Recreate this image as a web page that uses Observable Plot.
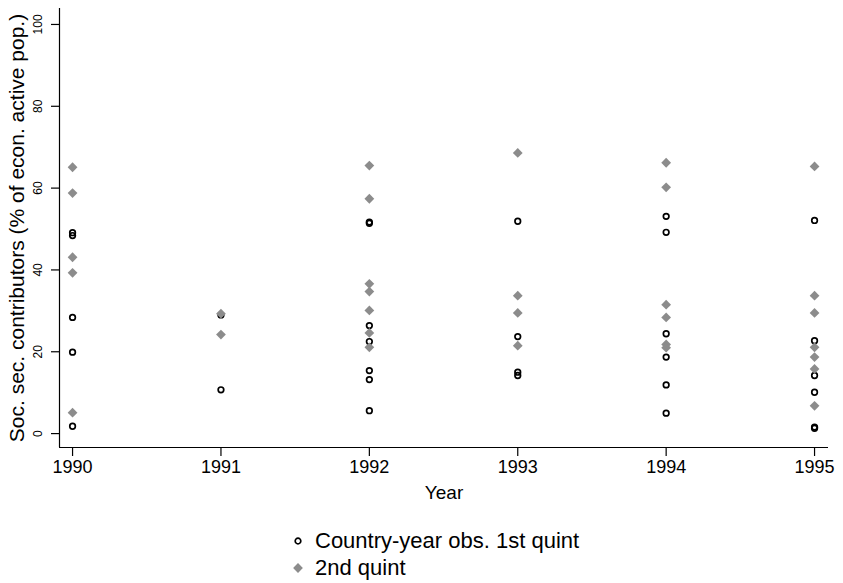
<!DOCTYPE html>
<html>
<head>
<meta charset="utf-8">
<script src="https://cdn.jsdelivr.net/npm/d3@7"></script>
<script src="https://cdn.jsdelivr.net/npm/@observablehq/plot@0.6"></script>
<style>
  body { margin: 0; background: #fff; font-family: "Liberation Sans", Arial, Helvetica, sans-serif; }
  #chart svg { display: block; }
  .legend { position: relative; height: 63px; }
  .legend .row { position: absolute; left: 289px; display: flex; align-items: center; font-size: 22px; color: #000; height: 26px; }
  .legend .row svg { width: 18px; height: 18px; margin-right: 8px; }
</style>
</head>
<body>
<div id="chart"></div>
<div class="legend" id="legend"></div>
<script>
// Years observed on the x axis
const years = [1990, 1991, 1992, 1993, 1994, 1995];

// Contributors (% of economically active population), one list per year
const quint1 = [
  [49.1, 48.4, 28.4, 19.9, 1.8],
  [29.0, 10.7],
  [51.7, 51.4, 26.4, 22.5, 15.4, 13.2, 5.6],
  [51.9, 23.7, 15.0, 14.2],
  [53.1, 49.2, 24.4, 18.7, 11.9, 5.0],
  [52.1, 22.7, 14.2, 10.1, 1.6, 1.3]
];
const quint2 = [
  [65.1, 58.8, 43.1, 39.3, 5.1],
  [29.3, 24.2],
  [65.5, 57.4, 36.6, 34.7, 30.1, 24.6, 21.1],
  [68.6, 33.7, 29.5, 21.5],
  [66.2, 60.2, 31.5, 28.4, 21.8, 21.0],
  [65.3, 33.7, 29.5, 21.1, 18.7, 15.8, 6.8]
];

const yTicks = [0, 20, 40, 60, 80, 100];
const seriesLabels = ["Country-year obs. 1st quint", "2nd quint"];
const yTitle = "Soc. sec. contributors (% of econ. active pop.)";
const xTitle = "Year";

const flat = (lists) => lists.flatMap((vals, i) => vals.map(v => ({year: years[i], value: v})));
const pts1 = flat(quint1);
const pts2 = flat(quint2);

const grey = "#8c8c8c";
const xDomain = [1989.912, 1995.094];
const yDomain = [-3.4, 103.9];

const chart = Plot.plot({
  width: 843,
  height: 520,
  marginLeft: 59,
  marginRight: 15,
  marginTop: 8,
  marginBottom: 73,
  style: { fontFamily: "Liberation Sans, Arial, Helvetica, sans-serif", color: "#000", background: "#fff" },
  x: { domain: xDomain, axis: null },
  y: { domain: yDomain, axis: null },
  marks: [
    // axis lines
    Plot.ruleX([xDomain[0]], { stroke: "#000", strokeWidth: 1.2 }),
    Plot.ruleY([yDomain[0]], { stroke: "#000", strokeWidth: 1.2 }),
    // y ticks and rotated labels
    Plot.axisY({ ticks: yTicks, tickSize: 8, tickFormat: () => "", label: null, stroke: "#000", strokeWidth: 1.2 }),
    Plot.text(yTicks, { y: d => d, frameAnchor: "left", textAnchor: "middle", dx: -21, rotate: -90, text: d => String(d), fontSize: 12, fill: "#000" }),
    // x ticks and labels
    Plot.axisX({ ticks: years, tickSize: 9, tickPadding: 4, tickFormat: d => String(d), fontSize: 18, stroke: "#000", strokeWidth: 1.2, label: null }),
    // axis titles
    Plot.text([xTitle], { frameAnchor: "bottom", textAnchor: "middle", dy: 51, fontSize: 19, fill: "#000" }),
    Plot.text([yTitle], { frameAnchor: "left", textAnchor: "middle", dx: -42, rotate: -90, fontSize: 21, fill: "#000" }),
    // data
    Plot.dot(pts1, { x: "year", y: "value", r: 2.8, stroke: "#000", strokeWidth: 1.7, fill: "none" }),
    Plot.dot(pts2, { x: "year", y: "value", r: 4.4, symbol: "diamond2", fill: grey, stroke: "none" })
  ]
});
document.getElementById("chart").appendChild(chart);

// legend below the plot
const legend = document.getElementById("legend");
const markers = [
  `<svg viewBox="-9 -9 18 18"><circle r="2.8" fill="none" stroke="#000" stroke-width="1.7"/></svg>`,
  `<svg viewBox="-9 -9 18 18"><path d="${d3.symbol(d3.symbolDiamond2, Math.PI * 4.4 * 4.4)()}" fill="${grey}"/></svg>`
];
seriesLabels.forEach((label, i) => {
  const row = document.createElement("div");
  row.className = "row";
  row.style.top = (8 + i * 27) + "px";
  row.innerHTML = markers[i] + `<span>${label}</span>`;
  legend.appendChild(row);
});
</script>
</body>
</html>
